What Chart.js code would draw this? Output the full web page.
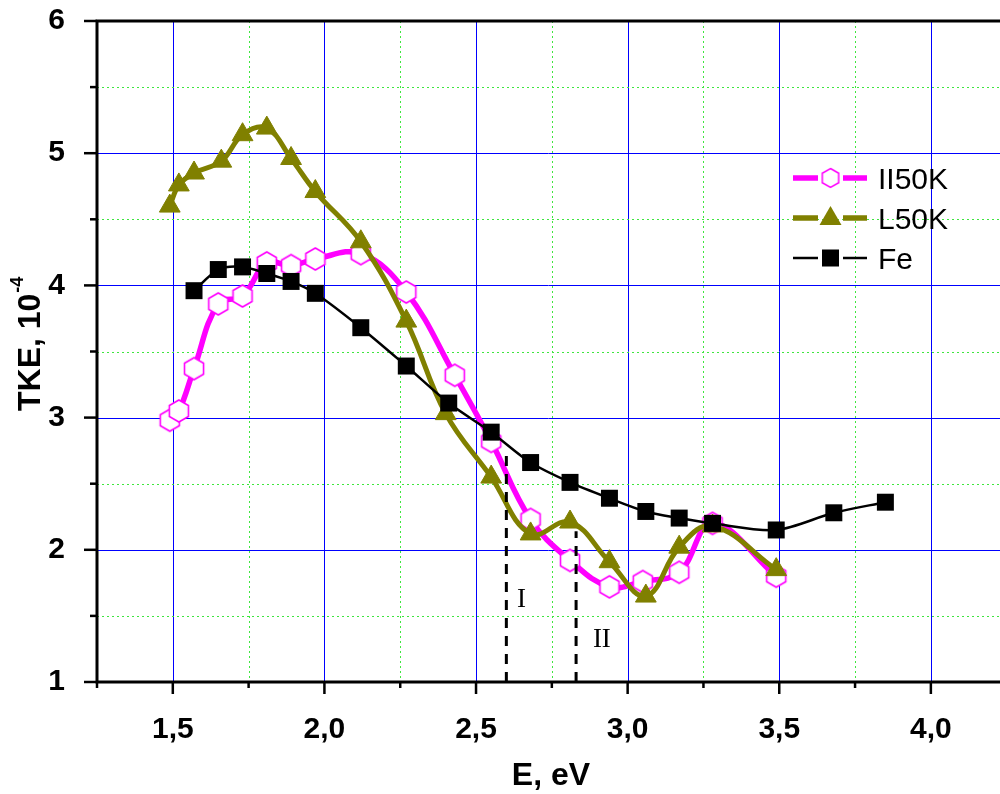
<!DOCTYPE html>
<html>
<head>
<meta charset="utf-8">
<script src="https://cdn.jsdelivr.net/npm/chart.js@4.4.1/dist/chart.umd.min.js"></script>
<style>
  html, body { margin: 0; padding: 0; background: #fff; overflow: hidden; }
  #wrap { width: 1000px; height: 794px; }
</style>
</head>
<body>
<div id="wrap"><canvas id="chart" width="1000" height="794"></canvas></div>
<script>
// II50K sample (E in eV, TKE in 1e-4)
const energyII = [1.49, 1.52, 1.57, 1.65, 1.73, 1.81, 1.89, 1.97, 2.12, 2.27, 2.43, 2.55, 2.68, 2.81, 2.94, 3.05, 3.17, 3.28, 3.49];
const tkeII = [2.98, 3.05, 3.37, 3.86, 3.92, 4.17, 4.15, 4.20, 4.24, 3.95, 3.32, 2.82, 2.23, 1.92, 1.72, 1.76, 1.83, 2.20, 1.80];

// L50K sample
const energyL = [1.49, 1.52, 1.57, 1.66, 1.73, 1.81, 1.89, 1.97, 2.12, 2.27, 2.40, 2.55, 2.68, 2.81, 2.94, 3.06, 3.17, 3.28, 3.49];
const tkeL = [4.60, 4.76, 4.85, 4.94, 5.14, 5.19, 4.96, 4.71, 4.33, 3.73, 3.03, 2.55, 2.12, 2.21, 1.91, 1.65, 2.02, 2.18, 1.85];

// Fe
const energyFe = [1.57, 1.65, 1.73, 1.81, 1.89, 1.97, 2.12, 2.27, 2.41, 2.55, 2.68, 2.81, 2.94, 3.06, 3.17, 3.28, 3.49, 3.68, 3.85];
const tkeFe = [3.96, 4.12, 4.14, 4.09, 4.03, 3.94, 3.68, 3.39, 3.11, 2.89, 2.66, 2.51, 2.39, 2.29, 2.24, 2.20, 2.15, 2.28, 2.36];

// dashed markers I and II
const markerNames = ['I', 'II'];
const markerE = [2.60, 2.83];
const markerTop = [2.74, 2.14];
const markerLabelE = [2.65, 2.915];
const markerLabelTKE = [1.62, 1.32];

const seriesNames = ['II50K', 'L50K', 'Fe'];

const PINK = '#ff00ff';
const OLIVE = '#808000';
const FONT = '"Liberation Sans", Arial, sans-serif';

function pts(xs, ys) {
  return xs.map((x, i) => ({ x: x, y: ys[i] }));
}

function isMajor(v, step) {
  return Math.abs(v / step - Math.round(v / step)) < 1e-6;
}

// hollow hexagon marker
function makeHex(r, lw) {
  const c = document.createElement('canvas');
  const s = Math.ceil(r * 2 + lw * 2 + 2);
  c.width = s; c.height = s;
  const g = c.getContext('2d');
  g.beginPath();
  for (let k = 0; k < 6; k++) {
    const a = -Math.PI / 2 + k * Math.PI / 3;
    const px = s / 2 + r * Math.cos(a), py = s / 2 + r * Math.sin(a);
    if (k === 0) g.moveTo(px, py); else g.lineTo(px, py);
  }
  g.closePath();
  g.fillStyle = '#fff';
  g.fill();
  g.lineWidth = lw;
  g.strokeStyle = PINK;
  g.stroke();
  return c;
}
const hexMark = makeHex(11, 1.6);

const datasets = [
  {
    label: seriesNames[2],
    data: pts(energyFe, tkeFe),
    borderColor: '#000',
    borderWidth: 2.5,
    tension: 0.3,
    pointStyle: 'rect',
    pointRadius: 12,
    pointBackgroundColor: '#000',
    pointBorderColor: '#000',
    pointBorderWidth: 0,
    order: 1,
  },
  {
    label: seriesNames[1],
    data: pts(energyL, tkeL),
    borderColor: OLIVE,
    borderWidth: 5,
    tension: 0.4,
    pointStyle: 'triangle',
    pointRadius: 12,
    pointBackgroundColor: OLIVE,
    pointBorderColor: OLIVE,
    pointBorderWidth: 1,
    order: 2,
  },
  {
    label: seriesNames[0],
    data: pts(energyII, tkeII),
    borderColor: PINK,
    borderWidth: 5.5,
    tension: 0.4,
    pointStyle: hexMark,
    pointRadius: 11,
    order: 3,
  },
];

markerE.forEach((e, i) => {
  datasets.push({
    label: 'marker ' + markerNames[i],
    data: [{ x: e, y: 1 }, { x: e, y: markerTop[i] }],
    borderColor: '#000',
    borderWidth: 3,
    borderDash: [10, 8],
    pointRadius: 0,
    tension: 0,
    order: 0,
  });
});

// grid lines from the scale ticks: blue solid majors, green dotted minors
const gridPlugin = {
  id: 'gridPlugin',
  beforeDatasetsDraw(chart) {
    const ctx = chart.ctx;
    const a = chart.chartArea;
    const xs = chart.scales.x, ys = chart.scales.y;
    ctx.save();
    ctx.lineWidth = 1;
    xs.ticks.forEach(t => {
      const px = Math.round(xs.getPixelForValue(t.value)) + 0.5;
      const major = isMajor(t.value, 0.5);
      ctx.strokeStyle = major ? '#0000ff' : '#3ee63e';
      ctx.setLineDash(major ? [] : [2, 3]);
      ctx.beginPath(); ctx.moveTo(px, a.top); ctx.lineTo(px, a.bottom); ctx.stroke();
    });
    ys.ticks.forEach(t => {
      const py = Math.round(ys.getPixelForValue(t.value)) + 0.5;
      const major = isMajor(t.value, 1);
      ctx.strokeStyle = major ? '#0000ff' : '#3ee63e';
      ctx.setLineDash(major ? [] : [2, 3]);
      ctx.beginPath(); ctx.moveTo(a.left, py); ctx.lineTo(a.right, py); ctx.stroke();
    });
    ctx.restore();
  }
};

const frame = {
  id: 'frame',
  afterDraw(chart) {
    const ctx = chart.ctx;
    const a = chart.chartArea;
    const xs = chart.scales.x, ys = chart.scales.y;
    ctx.save();
    ctx.strokeStyle = '#000';
    ctx.lineCap = 'butt';

    // tick marks
    ctx.lineWidth = 2.5;
    xs.ticks.forEach(t => {
      const px = xs.getPixelForValue(t.value);
      const len = isMajor(t.value, 0.5) ? 12 : 6;
      ctx.beginPath(); ctx.moveTo(px, a.bottom); ctx.lineTo(px, a.bottom + len); ctx.stroke();
    });
    ys.ticks.forEach(t => {
      const py = ys.getPixelForValue(t.value);
      const len = isMajor(t.value, 1) ? 13 : 7;
      ctx.beginPath(); ctx.moveTo(a.left, py); ctx.lineTo(a.left - len, py); ctx.stroke();
    });

    // axis lines
    ctx.lineWidth = 3;
    ctx.beginPath();
    ctx.moveTo(a.left, a.top); ctx.lineTo(a.right, a.top);
    ctx.moveTo(a.left, a.top - 1.5); ctx.lineTo(a.left, a.bottom + 1.5);
    ctx.moveTo(a.left - 1.5, a.bottom); ctx.lineTo(a.right, a.bottom);
    ctx.stroke();

    // marker labels
    ctx.fillStyle = '#000';
    ctx.font = '27px "Liberation Serif", "Times New Roman", serif';
    ctx.textAlign = 'center';
    ctx.textBaseline = 'middle';
    markerNames.forEach((n, i) => {
      ctx.fillText(n, xs.getPixelForValue(markerLabelE[i]), ys.getPixelForValue(markerLabelTKE[i]));
    });

    // axis titles
    ctx.font = 'bold 32px ' + FONT;
    ctx.textAlign = 'center';
    ctx.textBaseline = 'alphabetic';
    ctx.fillText('E, eV', 551, 785);

    ctx.save();
    ctx.translate(40, 411);
    ctx.rotate(-Math.PI / 2);
    ctx.textAlign = 'left';
    const main = 'TKE, 10';
    ctx.fillText(main, 0, 0);
    const w = ctx.measureText(main).width;
    ctx.font = 'bold 18px ' + FONT;
    ctx.fillText('-4', w + 1, -17);
    ctx.restore();

    // legend
    const rows = [178, 218, 258];
    const x0 = 793, x1 = 818, x2 = 843, x3 = 867, mx = 830.5;
    rows.forEach((y, i) => {
      ctx.lineCap = 'butt';
      if (i === 0) {
        ctx.strokeStyle = PINK; ctx.lineWidth = 5.5;
      } else if (i === 1) {
        ctx.strokeStyle = OLIVE; ctx.lineWidth = 5.5;
      } else {
        ctx.strokeStyle = '#000'; ctx.lineWidth = 2.5;
      }
      ctx.beginPath();
      ctx.moveTo(x0, y); ctx.lineTo(x1, y);
      ctx.moveTo(x2, y); ctx.lineTo(x3, y);
      ctx.stroke();
      if (i === 0) {
        const m = makeHex(9.5, 1.5);
        ctx.drawImage(m, mx - m.width / 2, y - m.height / 2);
      } else if (i === 1) {
        ctx.fillStyle = OLIVE;
        ctx.beginPath();
        ctx.moveTo(mx, y - 12); ctx.lineTo(mx + 11, y + 7); ctx.lineTo(mx - 11, y + 7);
        ctx.closePath(); ctx.fill();
      } else {
        ctx.fillStyle = '#000';
        ctx.fillRect(mx - 8.5, y - 8.5, 17, 17);
      }
      ctx.fillStyle = '#000';
      ctx.font = '30px ' + FONT;
      ctx.textAlign = 'left';
      ctx.textBaseline = 'alphabetic';
      ctx.fillText(seriesNames[i], 878, y + 11);
    });
    ctx.restore();
  }
};

function noPad(s) {
  s.paddingTop = 0; s.paddingBottom = 0; s.paddingLeft = 0; s.paddingRight = 0;
}

new Chart(document.getElementById('chart'), {
  type: 'line',
  data: { datasets: datasets },
  options: {
    responsive: false,
    devicePixelRatio: 1,
    animation: false,
    events: [],
    layout: { autoPadding: false, padding: { top: 21, right: 0, left: 0, bottom: 0 } },
    plugins: {
      legend: { display: false },
      tooltip: { enabled: false },
      title: { display: false },
    },
    scales: {
      x: {
        type: 'linear',
        min: 1.25,
        max: 4.228,
        afterFit: s => { s.height = 112; noPad(s); },
        ticks: {
          stepSize: 0.25,
          includeBounds: false,
          autoSkip: false,
          maxRotation: 0,
          padding: 22,
          color: '#000',
          font: { family: FONT, size: 30, weight: 'bold' },
          callback: v => isMajor(v, 0.5) ? v.toFixed(1).replace('.', ',') : '',
        },
        grid: { display: false },
        border: { display: false },
      },
      y: {
        type: 'linear',
        min: 1,
        max: 6,
        afterFit: s => { s.width = 97; noPad(s); },
        ticks: {
          stepSize: 0.5,
          autoSkip: false,
          padding: 24,
          color: '#000',
          font: { family: FONT, size: 30, weight: 'bold' },
          callback: v => isMajor(v, 1) ? String(v) : '',
        },
        grid: { display: false },
        border: { display: false },
      },
    },
  },
  plugins: [gridPlugin, frame],
});
</script>
</body>
</html>
